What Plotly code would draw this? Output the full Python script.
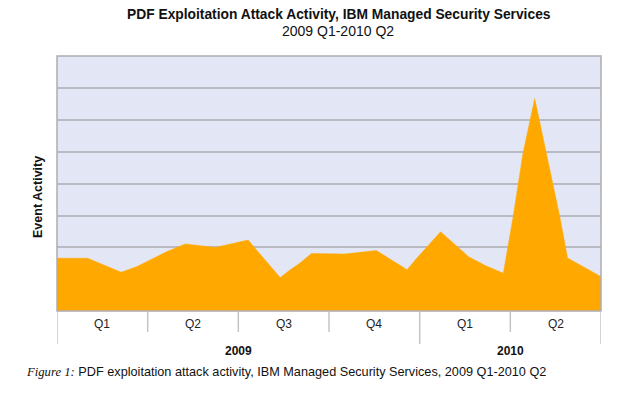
import plotly.graph_objects as go

# Data (x in weeks from start of 2009 Q1; y in event-activity units)
weeks = [0, 4.4, 9.2, 11.4, 13.3, 15.7, 18.4, 22.7, 27.4, 32.0, 33.4, 34.8, 36.5,
         41.2, 45.8, 47.2, 49.3, 50.2, 51.5, 55.0, 56.2, 57.9, 59.0, 61.5, 62.8,
         64.0, 65.4, 66.8, 68.5, 69.4, 70.7, 72.1, 73.2, 75.7, 76.4, 78.0]
activity = [1.66, 1.66, 1.22, 1.39, 1.60, 1.86, 2.11, 2.00, 2.23, 1.05, 1.29, 1.50, 1.81,
            1.79, 1.90, 1.71, 1.41, 1.30, 1.64, 2.49, 2.26, 1.92, 1.71, 1.42, 1.29,
            1.19, 2.96, 4.94, 6.68, 5.75, 4.39, 2.96, 1.67, 1.35, 1.26, 1.08]

quarter_labels = ["Q1", "Q2", "Q3", "Q4", "Q1", "Q2"]
year_labels = ["2009", "2010"]
quarter_len = 13

title_line1 = "PDF Exploitation Attack Activity, IBM Managed Security Services"
title_line2 = "2009 Q1-2010 Q2"
y_title = "Event Activity"
caption_italic = "Figure 1:"
caption_text = " PDF exploitation attack activity, IBM Managed Security Services, 2009 Q1-2010 Q2"

FONT = "Liberation Sans, Arial, sans-serif"
ORANGE = "#FFA800"
GRID = "#B9BAC2"

W, H = 622, 398
ml, mr, mt, mb = 57, 21, 56, 87
plot_w = W - ml - mr
plot_h = H - mt - mb


def px_x(pix):
    return (pix - ml) / plot_w


def px_y(pix):
    return (H - mb - pix) / plot_h


fig = go.Figure()
fig.add_trace(go.Scatter(
    x=weeks, y=activity, mode="lines", fill="tozeroy",
    line=dict(color=ORANGE, width=0.5), fillcolor=ORANGE,
    hoverinfo="skip", showlegend=False))

shapes = []
shapes.append(dict(type="rect", xref="paper", yref="paper", x0=0, x1=1, y0=0, y1=1,
                   line=dict(color="#ADADB2", width=1.5), layer="above"))
n_q = len(quarter_labels)
for i in range(n_q + 1):
    xv = i * quarter_len
    long_line = i in (0, 4, n_q)
    shapes.append(dict(type="line", xref="x", yref="paper", x0=xv, x1=xv,
                       y0=0, y1=px_y(344 if long_line else 332),
                       line=dict(color="#C4C4C4", width=1.5)))

annotations = []
for i, q in enumerate(quarter_labels):
    annotations.append(dict(x=(i + 0.5) * quarter_len, y=px_y(324), xref="x", yref="paper",
                            text=q, showarrow=False, yanchor="middle",
                            font=dict(family=FONT, size=12, color="#222")))
year_centres = [2 * quarter_len, 5 * quarter_len]
for yc, yl in zip(year_centres, year_labels):
    annotations.append(dict(x=yc, y=px_y(351), xref="x", yref="paper", text="<b>" + yl + "</b>",
                            showarrow=False, yanchor="middle",
                            font=dict(family=FONT, size=12, color="#111")))
annotations.append(dict(x=px_x(339), y=px_y(15), xref="paper", yref="paper", xanchor="center",
                        yanchor="middle", text="<b>" + title_line1 + "</b>", showarrow=False,
                        font=dict(family=FONT, size=13.8, color="#111")))
annotations.append(dict(x=px_x(338), y=px_y(31), xref="paper", yref="paper", xanchor="center",
                        yanchor="middle", text=title_line2, showarrow=False,
                        font=dict(family=FONT, size=14, color="#111")))
annotations.append(dict(x=px_x(38), y=px_y(197), xref="paper", yref="paper", xanchor="center",
                        yanchor="middle", text="<b>" + y_title + "</b>", textangle=-90,
                        showarrow=False, font=dict(family=FONT, size=12.5, color="#111")))
annotations.append(dict(x=px_x(24), y=px_y(372), xref="paper", yref="paper", xanchor="left",
                        yanchor="middle",
                        text="<span style='font-family:Liberation Serif, Times New Roman, serif'><i>"
                             + caption_italic + "</i></span>" + caption_text,
                        showarrow=False, font=dict(family=FONT, size=12.7, color="#111")))

fig.update_layout(
    width=W, height=H,
    margin=dict(l=ml, r=mr, t=mt, b=mb, pad=0),
    paper_bgcolor="white", plot_bgcolor="#E3E7F5",
    xaxis=dict(range=[0, 78], showgrid=False, showticklabels=False, ticks="",
               zeroline=False, fixedrange=True),
    yaxis=dict(range=[0, 8.02], dtick=1, showgrid=True, gridcolor=GRID, gridwidth=1.5,
               showticklabels=False, ticks="", zeroline=False, fixedrange=True),
    shapes=shapes,
    annotations=annotations,
    showlegend=False,
)

fig.write_html("out.html", config={"displayModeBar": False},
               post_script="document.body.style.margin='0';")
